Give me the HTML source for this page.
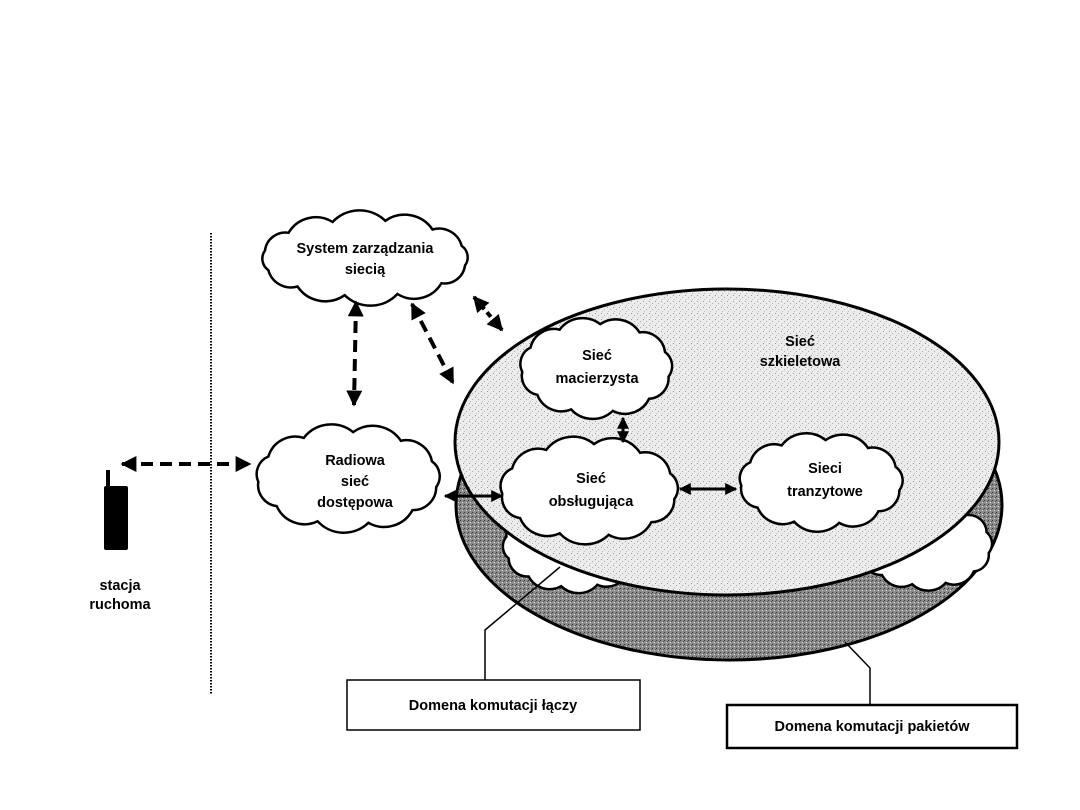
<!DOCTYPE html>
<html><head><meta charset="utf-8"><style>
html,body{margin:0;padding:0;background:#fff;width:1080px;height:810px;overflow:hidden}
svg text{font-family:"Liberation Sans",Arial,sans-serif;font-weight:bold;font-size:14.5px;fill:#000;text-anchor:middle}
</style></head><body>
<svg id="s" width="1080" height="810" viewBox="0 0 1080 810" xmlns="http://www.w3.org/2000/svg">
<defs>
<pattern id="lt" width="6" height="6" patternUnits="userSpaceOnUse"><rect width="6" height="6" fill="#ececec"/><rect x="1" y="1" width="1" height="1" fill="#999"/><rect x="4" y="3" width="1" height="1" fill="#aaa"/><rect x="2" y="5" width="1" height="1" fill="#bbb"/></pattern>
<pattern id="dk" width="4" height="4" patternUnits="userSpaceOnUse"><rect width="4" height="4" fill="#8c8c8c"/><rect x="0" y="0" width="1" height="1" fill="#333"/><rect x="2" y="2" width="1" height="1" fill="#ddd"/><rect x="3" y="1" width="1" height="1" fill="#555"/></pattern>
<marker id="ah" viewBox="0 0 10 10" refX="9" refY="5" markerWidth="4" markerHeight="4" orient="auto-start-reverse"><path d="M0,0L10,5L0,10z" fill="#000"/></marker>
</defs>
<line x1="211" y1="233" x2="211" y2="695" stroke="#000" stroke-width="2" stroke-dasharray="1.5,1.5"/>
<ellipse cx="729" cy="505" rx="273" ry="155" fill="url(#dk)" stroke="#000" stroke-width="3"/>
<g id="lowclouds"></g>
<ellipse cx="727" cy="442" rx="272" ry="153" fill="url(#lt)" stroke="#000" stroke-width="3"/>
<g id="clouds"></g>
<rect x="104" y="486" width="24" height="64" rx="2" fill="#000"/>
<rect x="106" y="470" width="4" height="20" fill="#000"/>
<g stroke="#000" stroke-width="4" stroke-dasharray="12,7" fill="none">
<line x1="122" y1="464" x2="250" y2="464" marker-start="url(#ah)" marker-end="url(#ah)"/>
<line x1="356" y1="302" x2="354" y2="405" marker-start="url(#ah)" marker-end="url(#ah)"/>
<line x1="412" y1="304" x2="453" y2="383" marker-start="url(#ah)" marker-end="url(#ah)"/>
<line x1="474" y1="297" x2="502" y2="330" marker-start="url(#ah)" marker-end="url(#ah)" stroke-dasharray="6,4"/>
</g>
<g stroke="#000" stroke-width="3" fill="none">
<line x1="445" y1="496" x2="502" y2="496" marker-start="url(#ah)" marker-end="url(#ah)"/>
<line x1="680" y1="489" x2="736" y2="489" marker-start="url(#ah)" marker-end="url(#ah)"/>
<line x1="623" y1="418" x2="623" y2="442" marker-start="url(#ah)" marker-end="url(#ah)"/>
</g>
<polyline points="485,680 485,630 560,567" fill="none" stroke="#000" stroke-width="1.5"/>
<polyline points="870,705 870,668 845,642" fill="none" stroke="#000" stroke-width="1.5"/>
<rect x="347" y="680" width="293" height="50" fill="#fff" stroke="#000" stroke-width="1.5"/>
<rect x="727" y="705" width="290" height="43" fill="#fff" stroke="#000" stroke-width="2.5"/>
<text x="493" y="710">Domena komutacji łączy</text>
<text x="872" y="731">Domena komutacji pakietów</text>
<g id="labels">
<text x="365" y="253">System zarządzania</text>
<text x="365" y="274">siecią</text>
<text x="355" y="465">Radiowa</text>
<text x="355" y="486">sieć</text>
<text x="355" y="507">dostępowa</text>
<text x="597" y="360">Sieć</text>
<text x="597" y="383">macierzysta</text>
<text x="591" y="483">Sieć</text>
<text x="591" y="506">obsługująca</text>
<text x="825" y="473">Sieci</text>
<text x="825" y="496">tranzytowe</text>
<text x="800" y="346">Sieć</text>
<text x="800" y="366">szkieletowa</text>
<text x="120" y="590">stacja</text>
<text x="120" y="609">ruchoma</text>
</g>
</svg>
<script>
function cloud(cx,cy,rx,ry,n,g){
  var p=[];for(var i=0;i<n;i++){var a=2*Math.PI*i/n+0.2;p.push([cx+rx*Math.cos(a),cy+ry*Math.sin(a)]);}
  var d="M"+p[0][0].toFixed(1)+","+p[0][1].toFixed(1);
  for(var i=1;i<=n;i++){var q=p[i%n],o=p[i-1];var L=Math.hypot(q[0]-o[0],q[1]-o[1]);var r=L*0.7;
    d+=" A"+r.toFixed(1)+","+r.toFixed(1)+" 0 0 1 "+q[0].toFixed(1)+","+q[1].toFixed(1);}
  var e=document.createElementNS("http://www.w3.org/2000/svg","path");
  e.setAttribute("d",d+"Z");e.setAttribute("fill","#fff");e.setAttribute("stroke","#000");e.setAttribute("stroke-width","2.5");
  document.getElementById(g).appendChild(e);
}
cloud(575,545,70,42,12,"lowclouds");
cloud(925,545,65,40,12,"lowclouds");
cloud(365,258,102,38,12,"clouds");
cloud(348,478,90,46,11,"clouds");
cloud(596,368,74,44,11,"clouds");
cloud(589,490,87,46,11,"clouds");
cloud(821,482,80,42,11,"clouds");
</script>
</body></html>
